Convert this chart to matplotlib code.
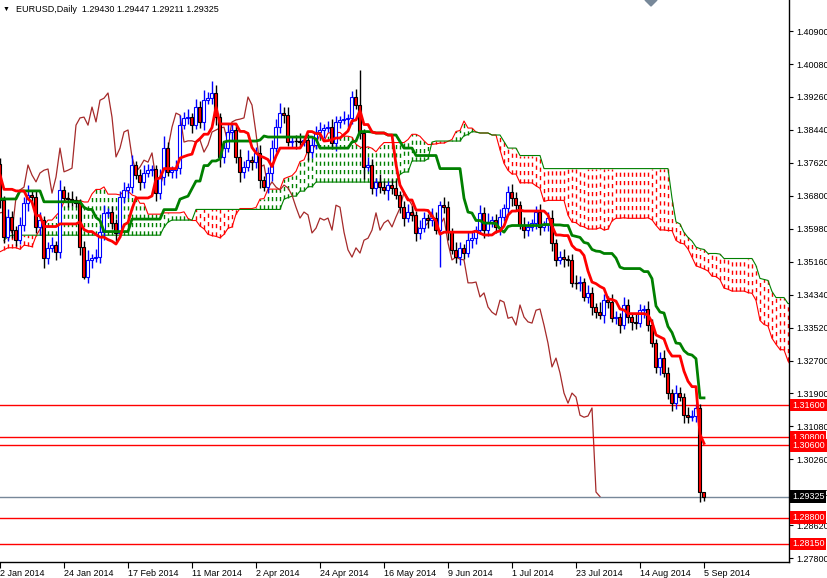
import numpy as np
import pandas as pd
import matplotlib
matplotlib.use("Agg")
import matplotlib.pyplot as plt
from matplotlib.transforms import blended_transform_factory
from matplotlib.patches import Polygon

plt.rcParams["font.family"] = ["Liberation Sans", "DejaVu Sans"]

# --- data -------------------------------------------------------------
# daily closes Sep 16 2013 .. Dec 31 2013 (needed for the Ichimoku warm-up)
pre_closes = [1.3340, 1.3358, 1.3515, 1.3525, 1.3525, 1.3485, 1.3490, 1.3515, 1.3485, 1.3525, 1.3525,
              1.3515, 1.3585, 1.3620, 1.3555, 1.3580, 1.3575, 1.3515, 1.3545, 1.3555, 1.3565, 1.3510,
              1.3520, 1.3665, 1.3685, 1.3675, 1.3780, 1.3780, 1.3800, 1.3800, 1.3785, 1.3745, 1.3740,
              1.3585, 1.3485, 1.3515, 1.3510, 1.3515, 1.3370, 1.3365, 1.3405, 1.3430, 1.3495, 1.3460,
              1.3495, 1.3505, 1.3545, 1.3440, 1.3555, 1.3560, 1.3520, 1.3580, 1.3600, 1.3590, 1.3590,
              1.3545, 1.3590, 1.3590, 1.3665, 1.3705, 1.3740, 1.3760, 1.3785, 1.3750, 1.3740, 1.3760,
              1.3770, 1.3690, 1.3665, 1.3675, 1.3705, 1.3670, 1.3700, 1.3745, 1.3800, 1.3760]
pre_wick = 0.0030

# daily closes Jan 2 2014 .. Sep 5 2014
closes = [1.3670, 1.3578, 1.3628, 1.3595, 1.3570, 1.3608, 1.3662, 1.3682, 1.3677, 1.3603,
          1.3620, 1.3526, 1.3551, 1.3558, 1.3541, 1.3695, 1.3675, 1.3672, 1.3670, 1.3662,
          1.3553, 1.3478, 1.3521, 1.3526, 1.3528, 1.3590, 1.3638, 1.3640, 1.3613, 1.3588,
          1.3677, 1.3695, 1.3702, 1.3757, 1.3732, 1.3715, 1.3737, 1.3744, 1.3747, 1.3687,
          1.3727, 1.3799, 1.3740, 1.3744, 1.3749, 1.3856, 1.3874, 1.3876, 1.3856, 1.3901,
          1.3864, 1.3918, 1.3923, 1.3936, 1.3876, 1.3777, 1.3799, 1.3839, 1.3844, 1.3777,
          1.3740, 1.3752, 1.3769, 1.3764, 1.3787, 1.3720, 1.3702, 1.3737, 1.3799, 1.3851,
          1.3886, 1.3881, 1.3814, 1.3817, 1.3817, 1.3814, 1.3819, 1.3789, 1.3807, 1.3839,
          1.3844, 1.3849, 1.3851, 1.3812, 1.3864, 1.3869, 1.3871, 1.3874, 1.3926, 1.3906,
          1.3836, 1.3752, 1.3757, 1.3700, 1.3715, 1.3702, 1.3695, 1.3707, 1.3700, 1.3682,
          1.3652, 1.3625, 1.3640, 1.3633, 1.3588, 1.3600, 1.3625, 1.3620, 1.3625, 1.3595,
          1.3657, 1.3652, 1.3590, 1.3546, 1.3528, 1.3551, 1.3538, 1.3570, 1.3575, 1.3595,
          1.3638, 1.3595, 1.3613, 1.3620, 1.3603, 1.3628, 1.3650, 1.3690, 1.3675, 1.3657,
          1.3608, 1.3595, 1.3603, 1.3613, 1.3640, 1.3603, 1.3608, 1.3625, 1.3563, 1.3521,
          1.3528, 1.3523, 1.3521, 1.3464, 1.3464, 1.3466, 1.3429, 1.3439, 1.3404, 1.3391,
          1.3384, 1.3421, 1.3416, 1.3376, 1.3379, 1.3359, 1.3409, 1.3379, 1.3367, 1.3364,
          1.3396, 1.3399, 1.3359, 1.3314, 1.3255, 1.3277, 1.3240, 1.3190, 1.3165, 1.3190,
          1.3180, 1.3135, 1.3130, 1.3133, 1.3153, 1.2944, 1.29325]

# upper / lower shadows in pips, measured from the body
wick_up = [15, 10, 20, 15, 10, 20, 15, 25, 10, 15, 20, 10, 15, 20, 10, 25, 10, 15, 20, 10,
           10, 15, 25, 10, 20, 15, 20, 10, 15, 10, 15, 20, 10, 25, 10, 15, 20, 15, 10, 10,
           20, 30, 15, 10, 20, 25, 15, 20, 10, 20, 15, 25, 15, 30, 20, 10, 15, 20, 15, 10,
           20, 15, 25, 10, 15, 20, 10, 15, 20, 20, 25, 15, 20, 10, 15, 20, 10, 15, 20, 15,
           20, 10, 15, 20, 15, 10, 20, 10, 15, 20, 87, 10, 20, 15, 10, 20, 15, 10, 15, 20,
           10, 15, 20, 15, 10, 20, 15, 10, 25, 15, 10, 20, 15, 10, 20, 15, 10, 20, 15, 10,
           20, 15, 25, 10, 15, 20, 10, 15, 20, 15, 10, 20, 15, 10, 15, 20, 10, 15, 20, 10,
           15, 20, 10, 15, 20, 15, 10, 20, 15, 10, 25, 15, 10, 20, 15, 10, 20, 15, 10, 20,
           15, 10, 20, 15, 10, 15, 20, 15, 10, 20, 15, 10, 20, 15, 10, 9, 1]
wick_dn = [20, 15, 10, 20, 15, 10, 15, 20, 10, 15, 20, 25, 15, 10, 20, 15, 10, 20, 15, 10,
           20, 5, 15, 20, 10, 15, 20, 10, 15, 20, 10, 15, 20, 15, 10, 20, 15, 10, 15, 20,
           15, 20, 10, 15, 20, 15, 10, 15, 20, 10, 15, 20, 10, 15, 20, 25, 15, 10, 20, 15,
           25, 15, 10, 20, 15, 20, 10, 15, 20, 10, 15, 20, 10, 15, 20, 15, 10, 20, 15, 10,
           15, 20, 10, 15, 20, 15, 10, 20, 15, 10, 15, 30, 10, 15, 20, 15, 10, 25, 15, 10,
           15, 20, 10, 15, 20, 15, 10, 20, 15, 10, 92, 15, 20, 10, 15, 20, 15, 10, 20, 15,
           10, 20, 15, 10, 15, 20, 10, 15, 20, 15, 10, 20, 15, 10, 15, 20, 10, 15, 20, 15,
           10, 20, 15, 10, 15, 20, 10, 15, 20, 15, 10, 20, 15, 10, 15, 20, 10, 15, 20, 15,
           10, 20, 15, 10, 15, 20, 10, 15, 20, 15, 10, 20, 15, 10, 15, 24, 11]

date_labels = ["2 Jan 2014", "24 Jan 2014", "17 Feb 2014", "11 Mar 2014", "2 Apr 2014", "24 Apr 2014",
               "16 May 2014", "9 Jun 2014", "1 Jul 2014", "23 Jul 2014", "14 Aug 2014", "5 Sep 2014"]
date_bars = [0, 16, 32, 48, 64, 80, 96, 112, 128, 144, 160, 176]

price_ticks = [1.40900, 1.40080, 1.39260, 1.38440, 1.37620, 1.36800, 1.35980, 1.35160, 1.34340,
               1.33520, 1.32700, 1.31900, 1.31080, 1.30260, 1.29440, 1.28620, 1.27800]
levels = [1.3160, 1.3080, 1.3060, 1.2880, 1.2815]
last_price = 1.29325
title = "EURUSD,Daily  1.29430 1.29447 1.29211 1.29325"

# --- build OHLC --------------------------------------------------------
n_pre = len(pre_closes)
c = np.array(closes)
o = np.concatenate([[pre_closes[-1]], c[:-1]])
h = np.maximum(o, c) + np.array(wick_up) / 10000
l = np.minimum(o, c) - np.array(wick_dn) / 10000

pc = np.array(pre_closes)
full = pd.DataFrame({
    "high": np.concatenate([pc + pre_wick, h]),
    "low": np.concatenate([pc - pre_wick, l]),
    "close": np.concatenate([pc, c]),
})
xf = np.arange(len(full)) - n_pre

tenkan = (full["high"].rolling(9).max() + full["low"].rolling(9).min()) / 2
kijun = (full["high"].rolling(26).max() + full["low"].rolling(26).min()) / 2
span_a = (tenkan + kijun) / 2
span_b = (full["high"].rolling(52).max() + full["low"].rolling(52).min()) / 2
xs = xf + 26

# --- figure ------------------------------------------------------------
fig = plt.figure(figsize=(8.28, 5.78), dpi=100)
ax = fig.add_axes([0, 16 / 578, 789 / 828, 562 / 578])
ymin, ymax = 1.27701, 1.41671
ax.set_xlim(0, 197.25)
ax.set_ylim(ymin, ymax)

# cloud: dotted vertical strokes every bar
mask = (~span_a.isna()) & (~span_b.isna()) & (xs > 0) & (xs < 198)
for xi, a, b in zip(xs[mask], span_a[mask], span_b[mask]):
    col = "#008000" if a >= b else "#ff0000"
    ax.vlines(xi, min(a, b), max(a, b), colors=col, linestyles=(0, (3, 3)), linewidth=1, zorder=1)
ax.plot(xs, span_a, color="#ff0000", lw=0.8, zorder=2)
ax.plot(xs, span_b, color="#008000", lw=0.8, zorder=2)

# chikou
ax.plot(xf[n_pre + 26:] - 26, full["close"].values[n_pre + 26:], color="#a52a2a", lw=0.9, zorder=2)

# horizontal levels
for lv in levels:
    ax.axhline(lv, color="#ff0000", lw=1, zorder=2)
ax.axhline(last_price, color="#778899", lw=1, zorder=2)

# candles
xb = np.arange(len(c))
up = c > o
dn = c < o
eq = c == o
ax.vlines(xb[up], l[up], h[up], colors="#0000ff", lw=1, zorder=3)
ax.vlines(xb[~up], l[~up], h[~up], colors="black", lw=1, zorder=3)
ax.bar(xb[up], c[up] - o[up], bottom=o[up], width=0.75, color="white", edgecolor="#0000ff", lw=0.8, zorder=4)
ax.bar(xb[dn], o[dn] - c[dn], bottom=c[dn], width=0.75, color="#ff0000", edgecolor="black", lw=0.8, zorder=4)
ax.hlines(c[eq], xb[eq] - 0.4, xb[eq] + 0.4, colors="black", lw=1, zorder=4)

# tenkan / kijun
ax.plot(xf, kijun, color="#008000", lw=2, zorder=5)
ax.plot(xf, tenkan, color="#ff0000", lw=2, zorder=5)

# axes styling
for s in ["top", "left"]:
    ax.spines[s].set_visible(False)
for s in ["right", "bottom"]:
    ax.spines[s].set_color("black")
    ax.spines[s].set_linewidth(1)
ax.yaxis.tick_right()
ax.set_yticks(price_ticks)
ax.set_yticklabels([f"{p:.5f}" for p in price_ticks])
ax.tick_params(axis="y", length=3, width=0.8, labelsize=6.5, pad=2)
ax.set_xticks(date_bars)
ax.set_xticklabels(date_labels)
for t in ax.get_xticklabels():
    t.set_horizontalalignment("left")
ax.tick_params(axis="x", length=4, width=0.8, labelsize=6.5, pad=1)

# price labels on the right scale
tr = blended_transform_factory(ax.transAxes, ax.transData)
for lv in levels:
    ax.text(1.004, lv, f"{lv:.5f}", transform=tr, color="white", fontsize=6.5, va="center", ha="left",
            bbox=dict(boxstyle="square,pad=0.2", fc="#ff0000", ec="none"), clip_on=False, zorder=6)
ax.text(1.004, last_price, f"{last_price:.5f}", transform=tr, color="white", fontsize=6.5, va="center",
        ha="left", bbox=dict(boxstyle="square,pad=0.2", fc="black", ec="none"), clip_on=False, zorder=7)

# title and markers
fig.text(16 / 828, 1 - 9 / 578, title, fontsize=6.5, va="center", ha="left")
fig.text(3 / 828, 1 - 9 / 578, "▼", fontsize=5, va="center", ha="left")
fig.add_artist(Polygon([[645 / 828, 1.0], [657 / 828, 1.0], [651 / 828, 1 - 6 / 578]],
                       closed=True, color="#778899", transform=fig.transFigure))

fig.savefig("out.png", dpi=100)
